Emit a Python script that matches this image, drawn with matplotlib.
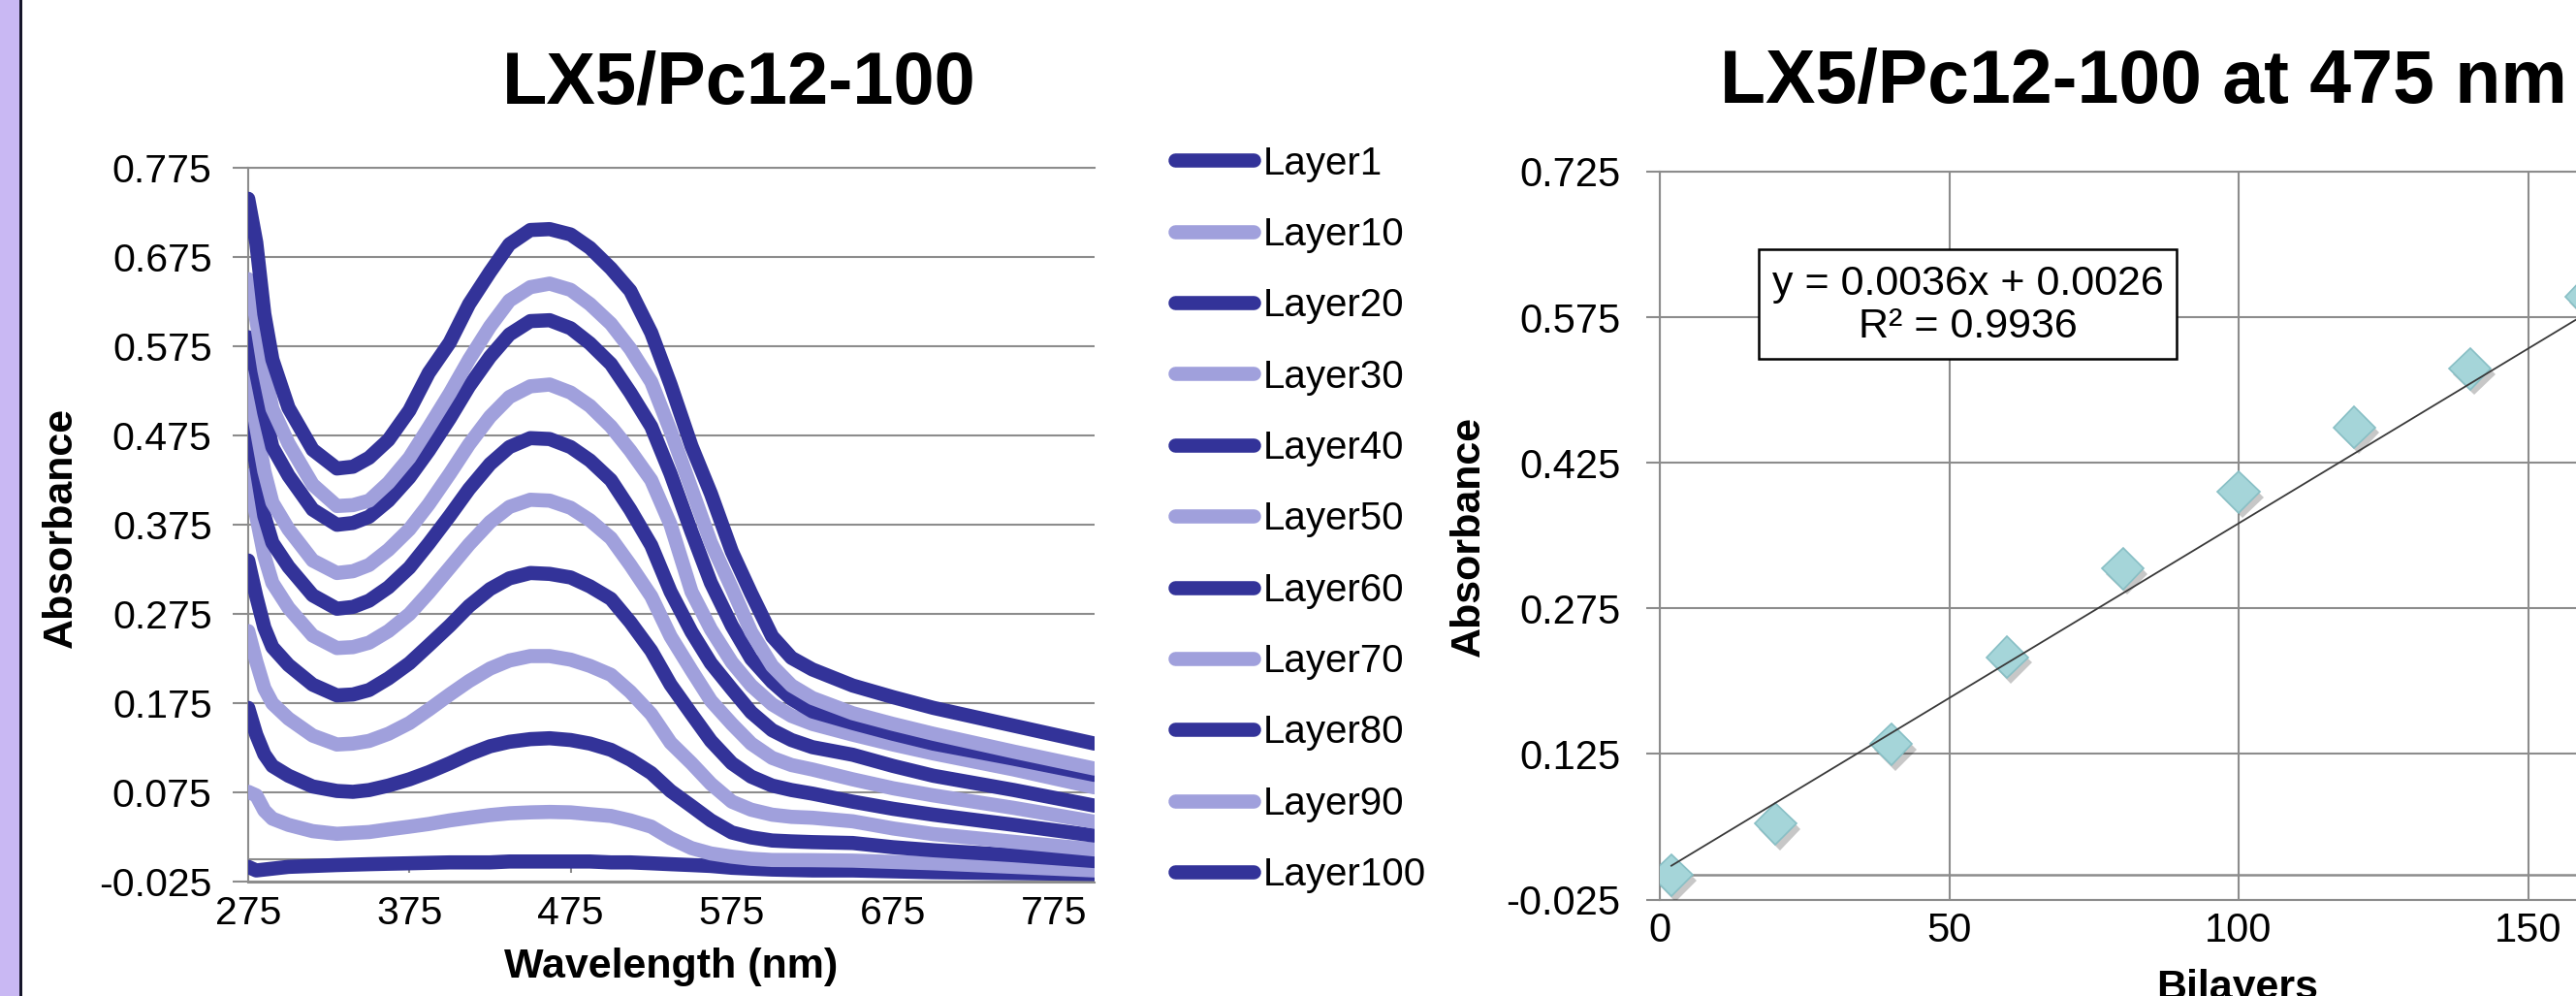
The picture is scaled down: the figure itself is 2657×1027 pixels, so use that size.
import numpy as np
import matplotlib
matplotlib.use("Agg")
import matplotlib.pyplot as plt
from matplotlib import patheffects as pe
from matplotlib.patches import Rectangle

plt.rcParams['font.family'] = ['Liberation Sans', 'DejaVu Sans']

# ---------------- data ----------------
wavelength = [275, 280, 285, 290, 300, 315, 330, 340, 350, 362,
              375, 387, 400, 412, 425, 437, 450, 462, 475, 487,
              500, 512, 525, 537, 550, 562, 575, 587, 600, 612,
              625, 650, 675, 700, 750, 800]

layer1 = [-0.008, -0.012, -0.011, -0.010, -0.008, -0.007, -0.006, -0.0055, -0.005, -0.0045,
          -0.004, -0.0035, -0.003, -0.003, -0.003, -0.002, -0.002, -0.002, -0.002, -0.002,
          -0.003, -0.003, -0.004, -0.005, -0.006, -0.007, -0.009, -0.010, -0.011, -0.0115,
          -0.012, -0.012, -0.013, -0.014, -0.015, -0.016]
layer10 = [0.076, 0.072, 0.055, 0.046, 0.039, 0.032, 0.029, 0.030, 0.031, 0.034,
           0.037, 0.040, 0.044, 0.047, 0.050, 0.052, 0.053, 0.0535, 0.053, 0.051,
           0.049, 0.044, 0.037, 0.024, 0.013, 0.007, 0.0034, 0.001, -0.0003, -0.0004,
           -0.0005, -0.001, -0.0025, -0.004, -0.008, -0.012]
layer20 = [0.170, 0.140, 0.118, 0.105, 0.094, 0.082, 0.077, 0.076, 0.078, 0.083,
           0.090, 0.098, 0.108, 0.118, 0.127, 0.132, 0.135, 0.136, 0.134, 0.130,
           0.123, 0.112, 0.097, 0.077, 0.060, 0.044, 0.0305, 0.025, 0.0215, 0.0205,
           0.0197, 0.0187, 0.014, 0.0106, 0.005, -0.0015]
layer30 = [0.256, 0.222, 0.192, 0.175, 0.158, 0.139, 0.129, 0.130, 0.133, 0.141,
           0.153, 0.168, 0.185, 0.200, 0.214, 0.223, 0.228, 0.228, 0.224, 0.217,
           0.207, 0.188, 0.163, 0.131, 0.108, 0.085, 0.065, 0.056, 0.0504, 0.048,
           0.047, 0.043, 0.035, 0.0287, 0.020, 0.0115]
layer40 = [0.335, 0.295, 0.260, 0.238, 0.218, 0.196, 0.184, 0.185, 0.190, 0.203,
           0.220, 0.240, 0.262, 0.284, 0.303, 0.315, 0.321, 0.320, 0.316, 0.306,
           0.292, 0.266, 0.234, 0.196, 0.163, 0.133, 0.108, 0.093, 0.083, 0.078,
           0.074, 0.065, 0.057, 0.0504, 0.039, 0.027]
layer50 = [0.430, 0.385, 0.340, 0.310, 0.282, 0.251, 0.237, 0.238, 0.243, 0.256,
           0.275, 0.299, 0.327, 0.353, 0.378, 0.395, 0.403, 0.402, 0.394, 0.380,
           0.360, 0.330, 0.295, 0.250, 0.212, 0.178, 0.152, 0.130, 0.114, 0.106,
           0.101, 0.090, 0.080, 0.072, 0.058, 0.0425]
layer60 = [0.500, 0.440, 0.385, 0.355, 0.328, 0.296, 0.281, 0.283, 0.290, 0.305,
           0.327, 0.354, 0.385, 0.415, 0.443, 0.462, 0.472, 0.471, 0.462, 0.447,
           0.425, 0.392, 0.352, 0.300, 0.255, 0.220, 0.191, 0.165, 0.145, 0.134,
           0.126, 0.1175, 0.105, 0.094, 0.078, 0.0605]
layer70 = [0.540, 0.485, 0.435, 0.400, 0.370, 0.335, 0.321, 0.323, 0.330, 0.347,
           0.370, 0.398, 0.432, 0.465, 0.496, 0.518, 0.530, 0.532, 0.523, 0.508,
           0.485, 0.458, 0.425, 0.375, 0.300, 0.258, 0.221, 0.195, 0.174, 0.161,
           0.152, 0.140, 0.129, 0.119, 0.101, 0.081]
layer80 = [0.585, 0.545, 0.500, 0.462, 0.430, 0.392, 0.375, 0.377, 0.384, 0.402,
           0.428, 0.458, 0.494, 0.530, 0.563, 0.588, 0.603, 0.604, 0.595, 0.578,
           0.555, 0.523, 0.485, 0.432, 0.367, 0.310, 0.262, 0.225, 0.199, 0.180,
           0.166, 0.153, 0.141, 0.130, 0.113, 0.095]
layer90 = [0.650, 0.605, 0.548, 0.505, 0.466, 0.420, 0.396, 0.397, 0.402, 0.422,
           0.450, 0.484, 0.522, 0.560, 0.597, 0.626, 0.641, 0.645, 0.638, 0.622,
           0.600, 0.572, 0.535, 0.480, 0.415, 0.355, 0.304, 0.255, 0.217, 0.195,
           0.181, 0.164, 0.152, 0.141, 0.121, 0.102]
layer100 = [0.740, 0.691, 0.611, 0.560, 0.506, 0.459, 0.438, 0.440, 0.450, 0.470,
            0.503, 0.545, 0.579, 0.622, 0.658, 0.689, 0.705, 0.706, 0.700, 0.685,
            0.662, 0.637, 0.590, 0.532, 0.463, 0.410, 0.345, 0.298, 0.250, 0.226,
            0.213, 0.195, 0.182, 0.170, 0.150, 0.130]

layer_labels = ['Layer1', 'Layer10', 'Layer20', 'Layer30', 'Layer40', 'Layer50',
                'Layer60', 'Layer70', 'Layer80', 'Layer90', 'Layer100']
left_xticks = [275, 375, 475, 575, 675, 775]
left_yticks = [-0.025, 0.075, 0.175, 0.275, 0.375, 0.475, 0.575, 0.675, 0.775]

bilayers = [2, 20, 40, 60, 80, 100, 120, 140, 160, 180, 200]
abs_475 = [0.000, 0.053, 0.135, 0.2245, 0.316, 0.395, 0.4615, 0.522, 0.596, 0.638, 0.700]
fit_slope = 0.0036
fit_intercept = 0.0026
fit_r2 = 0.9936
right_xticks = [0, 50, 100, 150]
right_yticks = [-0.025, 0.125, 0.275, 0.425, 0.575, 0.725]

# ---------------- styling ----------------
W, H = 2657, 1027
DARK = '#333399'
LIGHT = '#A0A0DC'
GRAY = '#8C8C8C'
series = [layer1, layer10, layer20, layer30, layer40, layer50,
          layer60, layer70, layer80, layer90, layer100]
colors = [DARK if i % 2 == 0 else LIGHT for i in range(len(series))]

fig = plt.figure(figsize=(W / 100, H / 100), dpi=100)
fig.patch.set_facecolor('white')

# lavender strip at left edge
fig.add_artist(Rectangle((0, 0), 19.5 / W, 1, transform=fig.transFigure,
                         facecolor='#C9B8F3', edgecolor='none', zorder=0))
fig.add_artist(Rectangle((19.5 / W, 0), 3.2 / W, 1, transform=fig.transFigure,
                         facecolor='#15152a', edgecolor='none', zorder=0))

# ---------------- left chart ----------------
ax1 = fig.add_axes([256 / W, 1 - 909.5 / H, 873 / W, 736.8 / H])
ax1.set_xlim(275, 800)
ax1.set_ylim(-0.025, 0.775)
ax1.set_xticks(left_xticks)
ax1.set_xticklabels([str(v) for v in left_xticks])
ax1.set_yticks(left_yticks)
ax1.set_yticklabels(['%.3f' % v for v in left_yticks])
ax1.yaxis.grid(True, color=GRAY, lw=1.5)
ax1.xaxis.grid(False)
ax1.set_axisbelow(True)
for s in ['left', 'top', 'bottom']:
    ax1.spines[s].set_color(GRAY)
    ax1.spines[s].set_linewidth(1.5)
ax1.spines['right'].set_visible(False)
ax1.tick_params(axis='y', length=11.5, width=1.5, color=GRAY, pad=15.5, labelsize=29.5)
ax1.tick_params(axis='x', length=0, pad=9.5, labelsize=29.5)
# horizontal category axis crossing at 0 with small outside ticks
ax1.axhline(0, color=GRAY, lw=1.5, zorder=1)
ax1.vlines(left_xticks, -0.0145, 0, color=GRAY, lw=1.5, zorder=1)

for vals, lab, c in zip(series, layer_labels, colors):
    ax1.plot(wavelength, vals, color=c, lw=10.5, solid_capstyle='round',
             solid_joinstyle='round', label=lab, zorder=3)

handles, labels = ax1.get_legend_handles_labels()
fig.legend(handles, labels, loc='upper left', bbox_to_anchor=(1212 / W, 1 - 149.5 / H),
           frameon=False, fontsize=29, handlelength=2.0, handletextpad=0.25,
           labelspacing=0.878, borderpad=0, borderaxespad=0)

fig.text(762 / W, 1 - 106 / H, 'LX5/Pc12-100', ha='center', va='baseline',
         fontsize=54.5, fontweight='bold')
fig.text(63 / W, 1 - 544 / H, 'Absorbance', rotation=90, ha='center', va='center',
         fontsize=31, fontweight='bold')
fig.text(692 / W, 1 - 997 / H, 'Wavelength (nm)', ha='center', va='center',
         fontsize=31, fontweight='bold')

# ---------------- right chart ----------------
px_per_unit = 5.97
ax2 = fig.add_axes([1712 / W, 1 - 927.5 / H, 250 * px_per_unit / W, 750.5 / H])
ax2.set_xlim(0, 250)
ax2.set_ylim(-0.025, 0.725)
ax2.set_xticks(right_xticks)
ax2.set_xticklabels([str(v) for v in right_xticks])
ax2.set_yticks(right_yticks)
ax2.set_yticklabels(['%.3f' % v for v in right_yticks])
ax2.grid(True, color=GRAY, lw=1.5)
ax2.set_axisbelow(True)
for s in ['left', 'top', 'bottom']:
    ax2.spines[s].set_color(GRAY)
    ax2.spines[s].set_linewidth(1.5)
ax2.spines['right'].set_visible(False)
ax2.tick_params(axis='y', length=10, width=1.5, color=GRAY, pad=19, labelsize=30)
ax2.tick_params(axis='x', length=0, pad=9, labelsize=30)
ax2.axhline(0, color=GRAY, lw=1.8, zorder=1)

ax2.plot(bilayers, abs_475, ls='none', marker='D', ms=22,
         mfc='#A5D5D9', mec='#88BFC5', mew=1.2, zorder=3,
         path_effects=[pe.SimplePatchShadow(offset=(3, -4), shadow_rgbFace='black', alpha=0.22),
                       pe.Normal()])
xfit = np.array([bilayers[0], bilayers[-1]], dtype=float)
ax2.plot(xfit, fit_slope * xfit + fit_intercept, color='#3a3a3a', lw=1.3, zorder=4)

fig.add_artist(Rectangle((1814 / W, 1 - 370 / H), 431 / W, 113 / H, transform=fig.transFigure,
                         facecolor='white', edgecolor='black', lw=1.8, zorder=5))
fig.text(2029.5 / W, 1 - 315 / H,
         'y = %.4fx + %.4f\nR² = %.4f' % (fit_slope, fit_intercept, fit_r2),
         ha='center', va='center', multialignment='center', fontsize=31,
         linespacing=1.1, zorder=6)

fig.text(2211 / W, 1 - 106 / H, 'LX5/Pc12-100 at 475 nm', ha='center', va='baseline',
         fontsize=55.5, fontweight='bold')
fig.text(1515 / W, 1 - 553 / H, 'Absorbance', rotation=90, ha='center', va='center',
         fontsize=31, fontweight='bold')
fig.text(2308 / W, 1 - 1030 / H, 'Bilayers', ha='center', va='baseline',
         fontsize=31, fontweight='bold')

fig.savefig('out.png', dpi=100)
